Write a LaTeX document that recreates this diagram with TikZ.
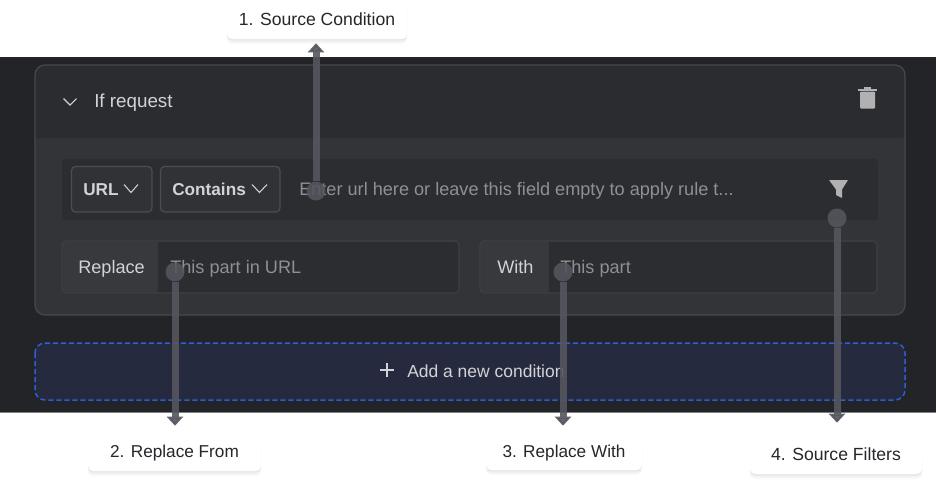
\documentclass[tikz,border=0pt]{standalone}
\usepackage{fontspec}
\setmainfont{Liberation Sans}
\usetikzlibrary{arrows.meta,shadows}

\def\px{0.75pt}
\definecolor{pagedark}{HTML}{232428}
\definecolor{headfill}{HTML}{2B2C30}
\definecolor{bodyfill}{HTML}{333438}
\definecolor{fieldfill}{HTML}{2C2D31}
\definecolor{tabfill}{HTML}{38393D}
\definecolor{edgegrey}{HTML}{47484C}
\definecolor{fieldedge}{HTML}{3E3F43}
\definecolor{boxedge}{HTML}{4C4D51}
\definecolor{addfill}{HTML}{252A3E}
\definecolor{addedge}{HTML}{2F5DD6}
\definecolor{lighttext}{HTML}{D2D3D5}
\definecolor{hinttext}{HTML}{8F9094}
\definecolor{calltext}{HTML}{26272B}
\definecolor{pointer}{HTML}{55565E}

\tikzset{
  uitext/.style={anchor=base west,inner sep=0pt,font=\fontsize{13.6pt}{15pt}\selectfont,text=lighttext},
  hint/.style={uitext,text=hinttext},
  strong/.style={uitext,font=\fontsize{12.9pt}{15pt}\selectfont\bfseries},
  chevron/.style={draw=lighttext,line width=0.8pt},
  dot/.style={circle,fill=pointer,inner sep=0pt,minimum size=19*\px,opacity=.87},
  pointerline/.style={draw=pointer,line width=7*\px,opacity=.9,-{Triangle[width=16*\px,length=9*\px]}},
  callout/.style={fill=white,rounded corners=5*\px,inner sep=0pt,text height=12.67*\px,font=\fontsize{13.2pt}{15pt}\selectfont,text=calltext,
    drop shadow={shadow xshift=0pt,shadow yshift=-1pt,opacity=.04,fill=black},
    drop shadow={shadow xshift=0pt,shadow yshift=-2.5pt,opacity=.04,fill=black},
    drop shadow={shadow xshift=0pt,shadow yshift=-4pt,opacity=.02,fill=black}}
}

\begin{document}
\begin{tikzpicture}[x=0.75pt,y=-0.75pt]
  \useasboundingbox (0,0) rectangle (936,486);

  \fill[pagedark] (0,57) rectangle (936,412);
  \draw[gray,line width=1*\px] (0,412.5) -- (936,412.5);

  \fill[bodyfill,rounded corners=10*\px] (35,65) rectangle (905,315);
  \fill[headfill,rounded corners=10*\px] (35,138) -- (35,65) -- (905,65) -- (905,138) [sharp corners] -- cycle;
  \fill[headfill] (35,120) rectangle (905,138);
  \draw[edgegrey,line width=1.2*\px,rounded corners=10*\px] (35,65) rectangle (905,315);

  \fill[fieldfill,rounded corners=3*\px] (62,159) rectangle (878,220);
  \draw[boxedge,fill=bodyfill!75!fieldfill,line width=1.2*\px,rounded corners=4*\px] (71.5,166.5) rectangle (152,212);
  \draw[boxedge,fill=bodyfill!75!fieldfill,line width=1.2*\px,rounded corners=4*\px] (160.5,166.5) rectangle (280,212);

  \fill[tabfill,rounded corners=4*\px] (158,241.5) -- (62.5,241.5) -- (62.5,292.5) -- (158,292.5) [sharp corners] -- cycle;
  \fill[fieldfill] (158,241.5) rectangle (459,293);
  \draw[fieldedge,line width=1.2*\px,rounded corners=4*\px] (62,241) rectangle (459,293);
  \fill[tabfill,rounded corners=4*\px] (549,241.5) -- (480.5,241.5) -- (480.5,292.5) -- (549,292.5) [sharp corners] -- cycle;
  \fill[fieldfill] (549,241.5) rectangle (877,293);
  \draw[fieldedge,line width=1.2*\px,rounded corners=4*\px] (480,241) rectangle (877,293);

  \draw[addedge,fill=addfill,line width=1.5*\px,dash pattern=on 5*\px off 3*\px,rounded corners=10*\px] (35,343) rectangle (905,400);

  \node[uitext,font=\fontsize{14.1pt}{15pt}\selectfont] (ifrequest) at (94,107) {If request};
  \node[strong] (urlbox) at (83,195) {URL};
  \node[strong] (containsbox) at (172,195) {Contains};
  \node[hint] (enterurl) at (299,195) {Enter url here or leave this field empty to apply rule t...};
  \node[uitext] (replacetab) at (78,273) {Replace};
  \node[hint] (replacehint) at (170,273) {This part in URL};
  \node[uitext] (withtab) at (497,273) {With};
  \node[hint] (withhint) at (560,273) {This part};
  \node[uitext,font=\fontsize{13.1pt}{15pt}\selectfont] (addcond) at (407,377) {Add a new condition};

  \draw[chevron] (63.5,98.5) -- (70,105) -- (76.5,98.5);
  \draw[chevron] (124,184.5) -- (131,192.5) -- (138,184.5);
  \draw[chevron] (252,184.5) -- (259.5,192.5) -- (267,184.5);
  \draw[chevron] (380,370) -- (394,370) (387,363) -- (387,377);

  \fill[hinttext!70!white,rounded corners=1*\px] (860,91.5) -- (875,91.5) -- (875,108.5) -- (860,108.5) -- cycle;
  \fill[hinttext!70!white] (858,88.5) rectangle (877,90.5);
  \fill[hinttext!70!white] (864,87) rectangle (871,89);
  \fill[hinttext!70!white,rounded corners=.5*\px] (829,180) -- (848,180) -- (842,189.5) -- (842,198) -- (836,195) -- (836,189.5) -- cycle;

  \node[callout,minimum width=180*\px,minimum height=40*\px,text depth=.67*\px] (source) at (317,19) {1. Source Condition};
  \node[callout,minimum width=173*\px,minimum height=34*\px,text depth=6*\px,font=\fontsize{12.9pt}{15pt}\selectfont] (replacefrom) at (174.5,454) {2. Replace From};
  \node[callout,minimum width=156*\px,minimum height=35*\px,text depth=3.67*\px,font=\fontsize{12.9pt}{15pt}\selectfont] (replacewith) at (564,452.5) {3. Replace With};
  \node[callout,minimum width=172*\px,minimum height=35*\px,text depth=5.67*\px] (sourcefilters) at (836,456.5) {4. Source Filters};

  \node[dot] (d1) at (316,191) {};
  \node[dot] (d2) at (175,272) {};
  \node[dot] (d3) at (563,272) {};
  \node[dot] (d4) at (837,218) {};

  \draw[pointerline,shorten >=4*\px] (d1) -- (d1 |- source.south);
  \draw[pointerline,shorten >=11*\px] (d2) -- (d2 |- replacefrom.north);
  \draw[pointerline,shorten >=9*\px] (d3) -- (d3 |- replacewith.north);
  \draw[pointerline,shorten >=16*\px] (d4) -- (d4 |- sourcefilters.north);
\end{tikzpicture}
\end{document}
